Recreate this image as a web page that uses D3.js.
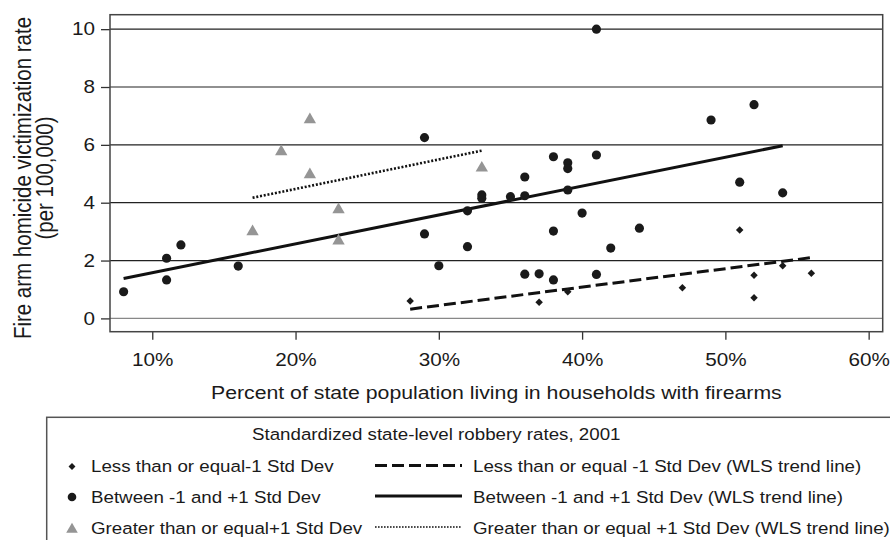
<!DOCTYPE html>
<html>
<head>
<meta charset="utf-8">
<script src="https://cdn.jsdelivr.net/npm/d3@7"></script>
<style>
  html, body { margin: 0; padding: 0; background: #fff; }
  svg { display: block; font-family: "Liberation Sans", Arial, Helvetica, sans-serif; }
</style>
</head>
<body>
<div class="chart"></div>
<script>
const width = 890;
const height = 540;
// the original figure is drawn a little wider than tall, so text gets stretched sideways
const stretch = 1.15;

// percent of population in gun households vs firearm homicide rate, by robbery group
const lowRobbery = [
  [28, 0.60], [37, 0.56], [39, 0.92], [47, 1.06], [51, 3.06],
  [52, 1.49], [52, 0.71], [54, 1.82], [56, 1.56]
];
const midRobbery = [
  [8, 0.92], [11, 2.08], [11, 1.33], [12, 2.54], [16, 1.81],
  [29, 6.25], [29, 2.92], [30, 1.82], [32, 3.72], [32, 2.48],
  [33, 4.27], [33, 4.15], [35, 4.21], [36, 4.89], [36, 4.24],
  [36, 1.53], [37, 1.54], [38, 5.59], [38, 3.02], [38, 1.33],
  [39, 5.38], [39, 5.18], [39, 4.44], [40, 3.64], [41, 10.0],
  [41, 5.65], [41, 1.52], [42, 2.43], [44, 3.12], [49, 6.86],
  [51, 4.71], [52, 7.39], [54, 4.34]
];
const highRobbery = [
  [17, 3.05], [19, 5.82], [21, 6.92], [21, 5.02], [23, 3.81],
  [23, 2.73], [33, 5.25]
];

// WLS trend line end points
const lowTrend = [[28, 0.32], [56, 2.10]];
const midTrend = [[8, 1.38], [54, 5.97]];
const highTrend = [[17, 4.17], [33, 5.80]];

const xTicks = [10, 20, 30, 40, 50, 60];
const yTicks = [0, 2, 4, 6, 8, 10];

const legendTitle = 'Standardized state-level robbery rates, 2001';
const pointLabels = [
  'Less than or equal-1 Std Dev',
  'Between -1 and +1 Std Dev',
  'Greater than or equal+1 Std Dev'
];
const trendLabels = [
  'Less than or equal -1 Std Dev (WLS trend line)',
  'Between -1 and +1 Std Dev (WLS trend line)',
  'Greater than or equal +1 Std Dev (WLS trend line)'
];

const frame = { left: 110, right: 882.7, top: 14.7, bottom: 331.7 };

const svg = d3.select('.chart').append('svg')
  .attr('width', width)
  .attr('height', height);

let addText = (parent, px, py, str, size, anchor) => {
  return parent.append('text')
    .attr('transform', 'translate(' + px + ',' + py + ') scale(' + stretch + ',1)')
    .attr('text-anchor', anchor || 'start')
    .attr('fill', '#1a1a1a')
    .style('font-size', size + 'px')
    .text(str);
};

const x = d3.scaleLinear().domain([7.05, 60.98]).range([frame.left, frame.right]);
const y = d3.scaleLinear().domain([-0.46, 10.5]).range([frame.bottom, frame.top]);

// gridlines
svg.append('g').selectAll('line')
  .data(yTicks)
  .join('line')
  .attr('x1', frame.left).attr('x2', frame.right)
  .attr('y1', d => y(d)).attr('y2', d => y(d))
  .attr('stroke', d => d === 0 ? '#888' : '#222')
  .attr('stroke-width', 1.2);

// axes
const yAxis = svg.append('g')
  .attr('transform', 'translate(' + frame.left + ',0)')
  .call(d3.axisLeft(y).tickValues(yTicks).tickSize(9).tickPadding(6));
const xAxis = svg.append('g')
  .attr('transform', 'translate(0,' + frame.bottom + ')')
  .call(d3.axisBottom(x).tickValues(xTicks).tickFormat(d => d + '%').tickSize(8).tickPadding(14));

[xAxis, yAxis].forEach(ax => {
  ax.select('.domain').remove();
  ax.selectAll('.tick line').attr('stroke', '#333').attr('stroke-width', 1.3);
  ax.selectAll('.tick text')
    .attr('fill', '#1a1a1a')
    .attr('transform', 'scale(' + stretch + ',1)')
    .style('font-size', '18px')
    .style('font-family', '"Liberation Sans", Arial, sans-serif');
});
yAxis.selectAll('.tick text').attr('x', -15 / stretch);

svg.append('rect')
  .attr('x', frame.left).attr('y', frame.top)
  .attr('width', frame.right - frame.left)
  .attr('height', frame.bottom - frame.top)
  .attr('fill', 'none')
  .attr('stroke', '#444')
  .attr('stroke-width', 1.5);

// axis titles
addText(svg, (frame.left + frame.right) / 2, 399,
  'Percent of state population living in households with firearms', 18.5, 'middle');

const yTitle = svg.append('text')
  .attr('transform', 'translate(0,178) scale(' + stretch + ',1) rotate(-90)')
  .attr('text-anchor', 'middle')
  .attr('fill', '#1a1a1a')
  .style('font-size', '20.5px');
yTitle.append('tspan').attr('x', 0).attr('y', 31 / stretch).text('Fire arm homicide victimization rate');
yTitle.append('tspan').attr('x', 0).attr('y', 53 / stretch).text('(per 100,000)');

// symbols
const diamond = d3.symbol().type(d3.symbolSquare).size(28);
const circle = d3.symbol().type(d3.symbolCircle).size(66);
const triangle = d3.symbol().type(d3.symbolTriangle).size(66);

const drawLine = d3.line().x(d => x(d[0])).y(d => y(d[1]));

const trendStyles = [
  { data: lowTrend, dash: '12,5', width: 3 },
  { data: midTrend, dash: null, width: 3 },
  { data: highTrend, dash: '2,1.8', width: 2.6 }
];

svg.append('g').selectAll('path')
  .data(trendStyles)
  .join('path')
  .attr('d', d => drawLine(d.data))
  .attr('fill', 'none')
  .attr('stroke', '#111')
  .attr('stroke-width', d => d.width)
  .attr('stroke-dasharray', d => d.dash);

svg.append('g').selectAll('path')
  .data(highRobbery)
  .join('path')
  .attr('d', triangle)
  .attr('transform', d => 'translate(' + x(d[0]) + ',' + (y(d[1]) + 1.5) + ')')
  .attr('fill', '#959595');

svg.append('g').selectAll('path')
  .data(midRobbery)
  .join('path')
  .attr('d', circle)
  .attr('transform', d => 'translate(' + x(d[0]) + ',' + y(d[1]) + ')')
  .attr('fill', '#1a1a1a');

svg.append('g').selectAll('path')
  .data(lowRobbery)
  .join('path')
  .attr('d', diamond)
  .attr('transform', d => 'translate(' + x(d[0]) + ',' + y(d[1]) + ') rotate(45)')
  .attr('fill', '#1a1a1a');

// legend
const legend = svg.append('g');
legend.append('rect')
  .attr('x', 46.7).attr('y', 417.3)
  .attr('width', 900).attr('height', 200)
  .attr('fill', 'none')
  .attr('stroke', '#555')
  .attr('stroke-width', 1.5);

addText(legend, 252, 440, legendTitle, 16.3);

const rowY = [466.5, 497, 528];
const legendSymbols = [
  { path: d3.symbol().type(d3.symbolSquare).size(24)(), fill: '#1a1a1a', rot: 45, dy: 0 },
  { path: d3.symbol().type(d3.symbolCircle).size(58)(), fill: '#1a1a1a', rot: 0, dy: 0 },
  { path: d3.symbol().type(d3.symbolTriangle).size(58)(), fill: '#959595', rot: 0, dy: 1.5 }
];
const legendDash = [
  { dash: '12,5', width: 3 },
  { dash: null, width: 3 },
  { dash: '1.6,1.4', width: 1.6 }
];

pointLabels.forEach((label, i) => {
  const sym = legendSymbols[i];
  legend.append('path')
    .attr('d', sym.path)
    .attr('transform', 'translate(72,' + (rowY[i] + sym.dy) + ') rotate(' + sym.rot + ')')
    .attr('fill', sym.fill);
  addText(legend, 91, rowY[i] + 5.5, label, 16.3);
});

trendLabels.forEach((label, i) => {
  legend.append('line')
    .attr('x1', 375).attr('x2', 462)
    .attr('y1', rowY[i] - 1).attr('y2', rowY[i] - 1)
    .attr('stroke', '#111')
    .attr('stroke-width', legendDash[i].width)
    .attr('stroke-dasharray', legendDash[i].dash);
  addText(legend, 473, rowY[i] + 5.5, label, 16.3);
});
</script>
</body>
</html>
